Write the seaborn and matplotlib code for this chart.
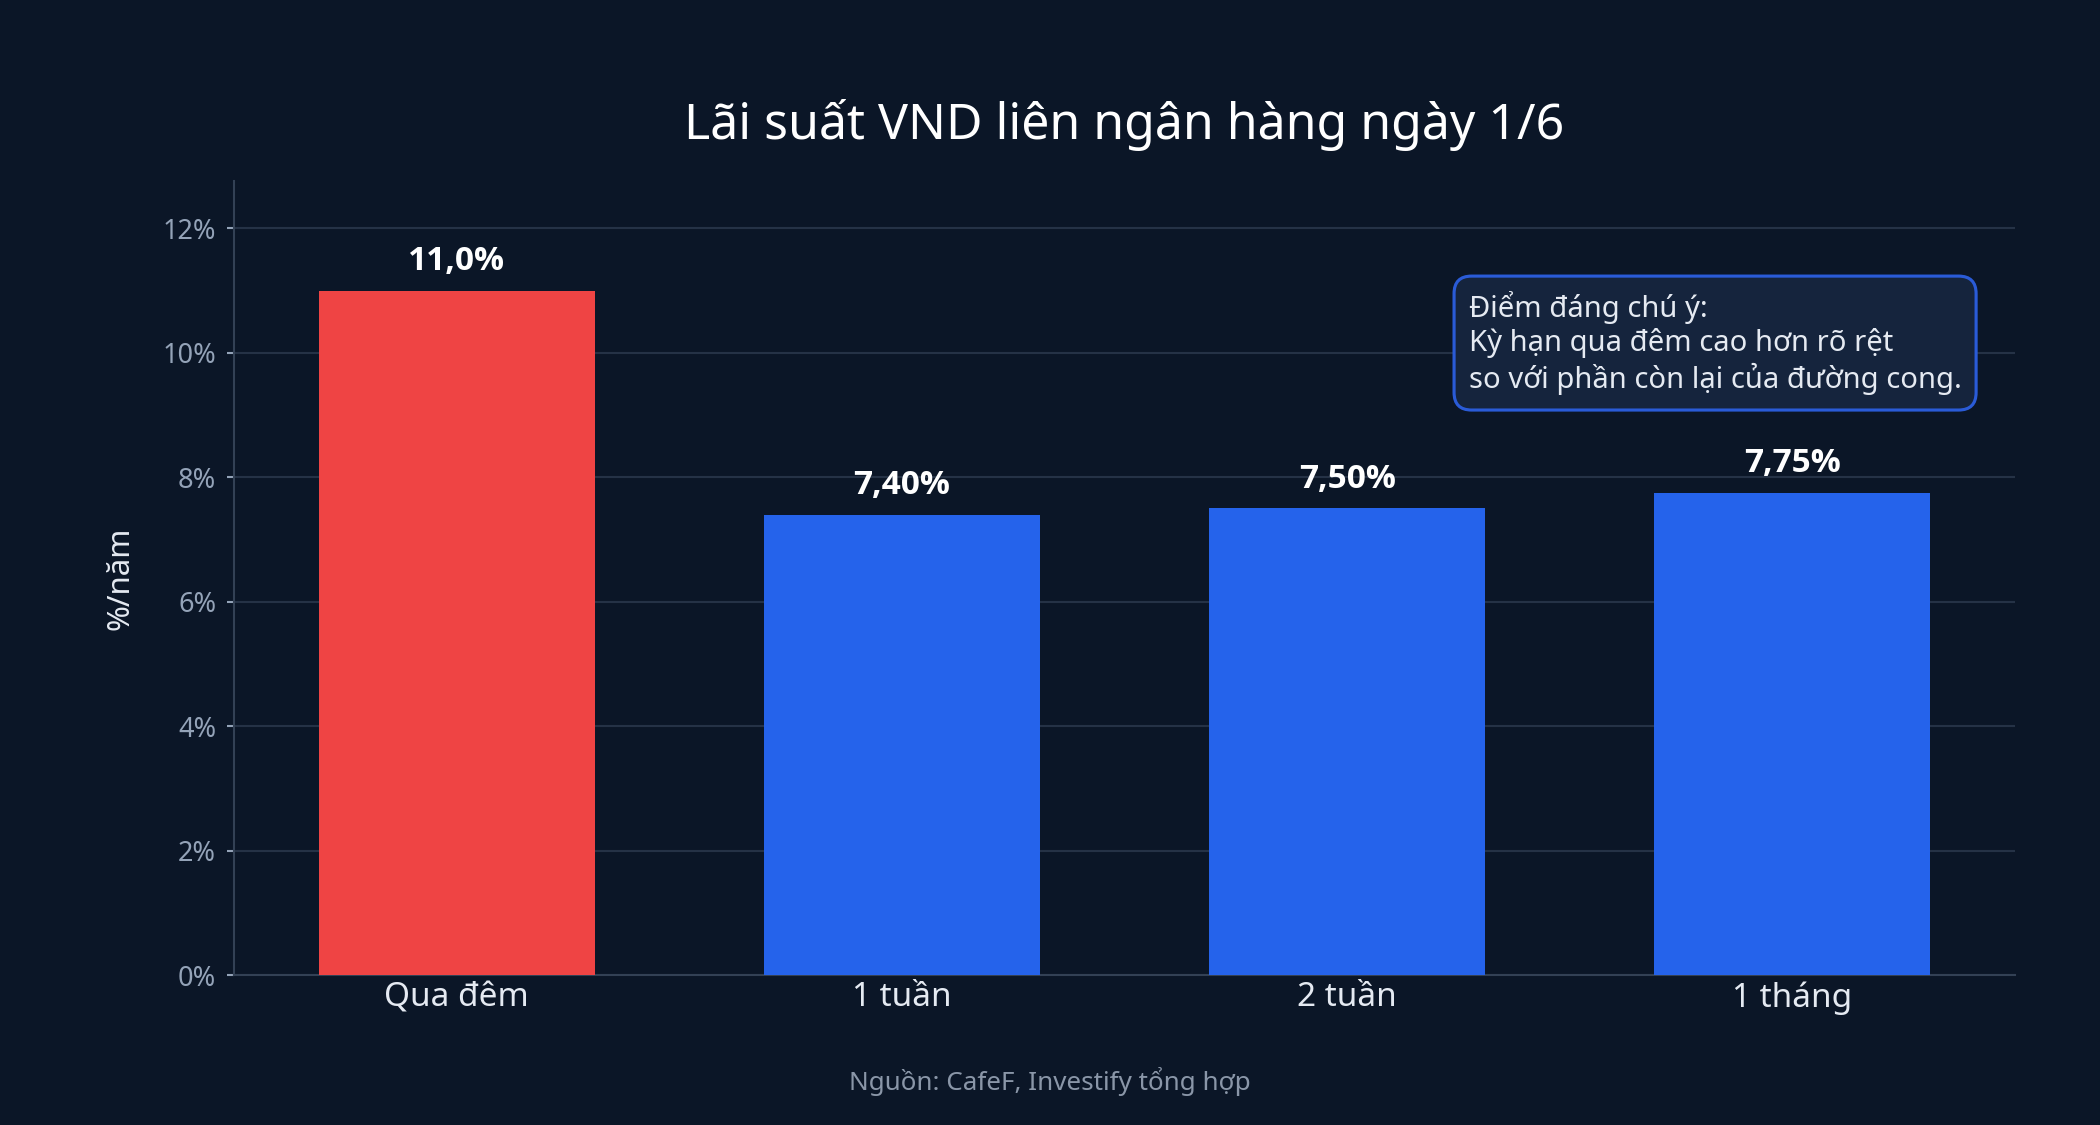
import matplotlib
matplotlib.use("Agg")
import matplotlib.pyplot as plt
import seaborn as sns
import pandas as pd
from matplotlib.ticker import FuncFormatter

# ---- data ----
categories = ["Qua đêm", "1 tuần", "2 tuần", "1 tháng"]
rates = [11.0, 7.40, 7.50, 7.75]
rate_labels = ["11,0%", "7,40%", "7,50%", "7,75%"]
bar_colors = ["#ef4444", "#2563eb", "#2563eb", "#2563eb"]
yticks = [0, 2, 4, 6, 8, 10, 12]
title = "Lãi suất VND liên ngân hàng ngày 1/6"
ylabel = "%/năm"
note = "Điểm đáng chú ý:\nKỳ hạn qua đêm cao hơn rõ rệt\nso với phần còn lại của đường cong."
source = "Nguồn: CafeF, Investify tổng hợp"

BG = "#0b1627"
GRID = "#253246"
SPINE = "#334155"
TICK = "#94a3b8"
TEXT = "#e5eaf2"

sns.set_theme(style="dark")
plt.rcParams["font.family"] = ["Noto Sans", "DejaVu Sans"]

df = pd.DataFrame({"term": categories, "rate": rates})

fig = plt.figure(figsize=(14, 7.5), dpi=150, facecolor=BG)
ax = fig.add_axes([0.1114, 0.1333, 0.8481, 0.7057])
ax.set_facecolor(BG)

sns.barplot(data=df, x="term", y="rate", hue="term", palette=bar_colors,
            width=0.62, legend=False, ax=ax, saturation=1, zorder=3,
            edgecolor="none", linewidth=0)

for cont, lab in zip(ax.containers, rate_labels):
    ax.bar_label(cont, labels=[lab], padding=6, color="white",
                 fontsize=16, fontweight="bold",
                 family=["Open Sans", "Noto Sans", "DejaVu Sans"], zorder=5)

ax.set_xlim(-0.5, 3.5)
ax.set_ylim(0, 11.0 * 1.16)
ax.set_yticks(yticks)
ax.yaxis.set_major_formatter(FuncFormatter(lambda v, p: f"{v:.0f}%"))

ax.grid(axis="y", color=GRID, linewidth=1.0, zorder=0)
ax.grid(axis="x", visible=False)
ax.set_axisbelow(True)

for s in ["top", "right"]:
    ax.spines[s].set_visible(False)
for s in ["left", "bottom"]:
    ax.spines[s].set_visible(True)
    ax.spines[s].set_color(SPINE)
    ax.spines[s].set_linewidth(1.0)

ax.tick_params(axis="y", colors=TICK, labelsize=13, length=3.5, width=1,
               pad=5, left=True)
ax.tick_params(axis="x", colors=TEXT, labelsize=16, length=0, pad=3)

ax.set_xlabel("")
ax.set_ylabel(ylabel, color=TEXT, fontsize=15, labelpad=13)
ax.set_title(title, color="white", fontsize=24, pad=20)

ax.text(0.970, 0.862, note, transform=ax.transAxes, ha="right", va="top",
        multialignment="left",
        fontsize=14, color=TEXT, linespacing=1.2, zorder=6,
        bbox=dict(boxstyle="round,pad=0.5,rounding_size=0.6",
                  facecolor="#15243d", edgecolor="#2a5bd7", linewidth=1.5))

fig.text(0.5, 0.039, source, ha="center", va="center", fontsize=12.5,
         color="#8a96a8")

fig.savefig("out.png", dpi=150, facecolor=BG)
